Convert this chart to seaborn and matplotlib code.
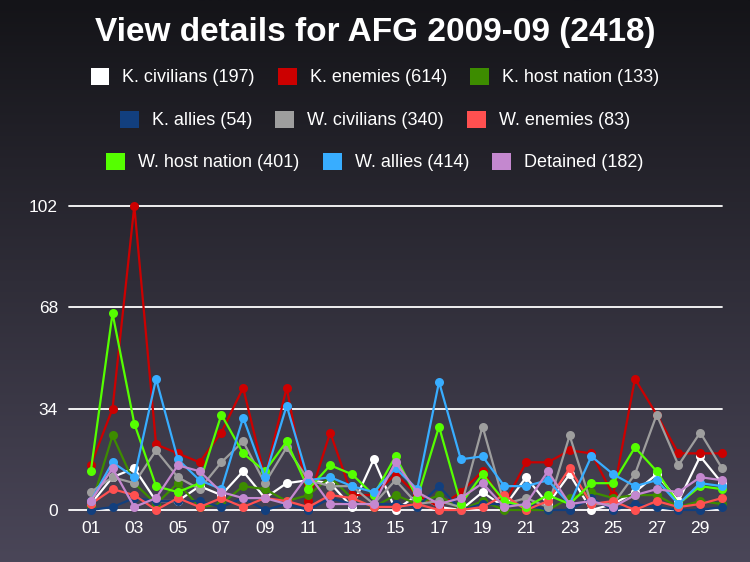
import numpy as np
import pandas as pd
import matplotlib
matplotlib.use("Agg")
import matplotlib.pyplot as plt
from matplotlib.patches import Patch
import seaborn as sns

days = list(range(1, 31))
series_names = ["K. civilians", "K. enemies", "K. host nation",
                "K. allies", "W. civilians", "W. enemies",
                "W. host nation", "W. allies", "Detained"]
k_civilians = [2,11,14,3,3,8,5,13,4,9,10,9,1,17,0,5,1,0,6,1,11,2,12,0,2,6,12,3,18,9]
k_enemies = [15,34,102,22,19,16,26,41,11,41,3,26,5,5,12,5,1,6,13,2,16,16,20,19,5,44,32,19,19,19]
k_host = [1,25,9,2,9,1,2,8,7,3,5,11,4,1,5,2,5,0,3,0,0,0,4,6,4,5,5,1,3,2]
k_allies = [0,1,4,3,3,3,1,4,0,2,0,4,2,2,2,1,8,0,2,2,2,0,0,4,0,2,1,0,0,1]
w_civilians = [6,11,9,20,11,7,16,23,9,21,10,8,8,2,10,2,3,1,28,2,4,1,25,2,2,12,32,15,26,14]
w_enemies = [2,7,5,0,4,1,4,1,4,3,1,5,4,1,1,2,0,0,1,5,0,3,14,2,3,0,3,1,2,4]
w_host = [13,66,29,8,6,9,32,19,13,23,7,15,12,5,18,4,28,2,12,3,1,5,2,9,9,21,13,2,8,7]
w_allies = [3,16,11,44,17,10,7,31,11,35,10,11,8,6,14,7,43,17,18,8,8,10,2,18,12,8,10,2,9,8]
detained = [3,14,1,4,15,13,6,4,4,2,12,2,2,2,16,6,2,4,9,1,2,13,2,3,1,5,7,6,11,10]
y_ticks = [0, 34, 68, 102]
x_tick_days = list(range(1, 30, 2))
x_tick_labels = [f"{d:02d}" for d in x_tick_days]
title = "View details for AFG 2009-09 (2418)"

values = [k_civilians, k_enemies, k_host, k_allies, w_civilians,
          w_enemies, w_host, w_allies, detained]
colors = ["#ffffff", "#cc0000", "#3d8c00", "#123f7e", "#9e9e9e",
          "#ff5050", "#55ff00", "#38adff", "#c488cf"]
palette = dict(zip(series_names, colors))

df = pd.DataFrame({
    "day": np.tile(days, len(series_names)),
    "value": np.concatenate(values),
    "series": np.repeat(series_names, len(days)),
})

sns.set_theme(style="white")
plt.rcParams["font.family"] = ["Liberation Sans", "DejaVu Sans"]

fig = plt.figure(figsize=(7.5, 5.62), dpi=100)

# background gradient
bg = fig.add_axes([0, 0, 1, 1], zorder=-10)
top = np.array([0x14, 0x14, 0x18]) / 255
bot = np.array([0x4a, 0x46, 0x58]) / 255
t = np.linspace(0, 1, 256)[:, None]
grad = top[None, :] * (1 - t) + bot[None, :] * t
bg.imshow(grad[:, None, :].repeat(2, axis=1), aspect="auto", extent=[0, 1, 0, 1])
bg.set_axis_off()

ax = fig.add_axes([69/750, 52/562, (722-69)/750, (510-206)/562])
ax.set_facecolor("none")
for yv in y_ticks:
    ax.axhline(yv, color="white", lw=1.3, zorder=1)

sns.lineplot(data=df, x="day", y="value", hue="series", hue_order=series_names,
             palette=palette, marker="o", markersize=6.5, markeredgewidth=0,
             linewidth=1.6, legend=False, ax=ax, zorder=3)
for line in ax.lines:
    line.set_clip_on(False)

ax.set_xlim(0, 30)
ax.set_ylim(0, 102)
ax.set_yticks(y_ticks)
ax.set_yticklabels([str(v) for v in y_ticks])
ax.set_xticks(x_tick_days)
ax.set_xticklabels(x_tick_labels)
ax.tick_params(axis="both", colors="white", labelsize=12.5, length=0)
ax.tick_params(axis="y", pad=8)
ax.tick_params(axis="x", pad=8)
ax.set_xlabel("")
ax.set_ylabel("")
for s in ax.spines.values():
    s.set_visible(False)

fig.text(0.5, 1 - 32/562, title, ha="center", va="center", color="white",
         fontsize=24, fontweight="bold")

rows = [series_names[0:3], series_names[3:6], series_names[6:9]]
totals = [sum(v) for v in values]
tot_map = dict(zip(series_names, totals))
row_y = [77, 120, 162]
for names, yy in zip(rows, row_y):
    handles = [Patch(facecolor=palette[n], edgecolor="none",
                     label=f"{n} ({tot_map[n]})") for n in names]
    leg = fig.legend(handles=handles, loc="center", ncol=3,
                     bbox_to_anchor=(0.5, 1 - yy/562), frameon=False,
                     handlelength=1.05, handleheight=1.1, handletextpad=0.72,
                     columnspacing=1.28, fontsize=13,
                     labelcolor="white")

fig.savefig("out.png", dpi=100)
